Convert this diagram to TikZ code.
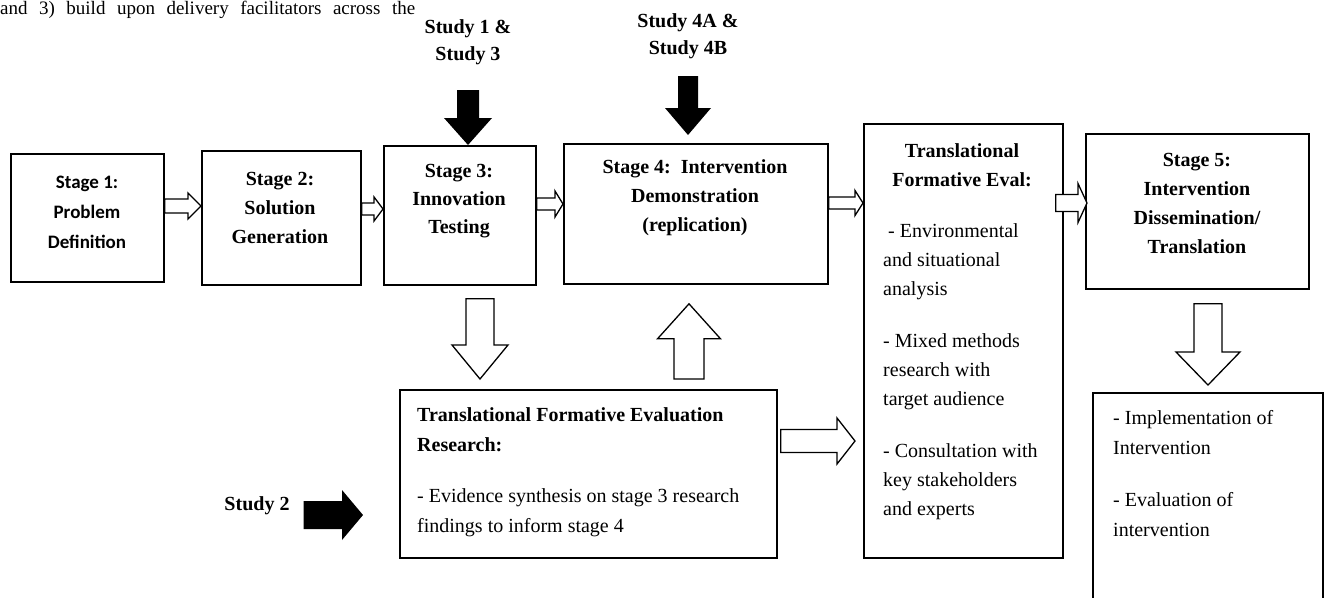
\documentclass[tikz,border=0pt]{standalone}
\usepackage{fontspec}
\setmainfont{Liberation Serif}
\newfontfamily\calib{Carlito}
\usetikzlibrary{calc}
% #1 style, #2 tail, #3 tip, #4 shaft half width, #5 head half width, #6 head length
\newcommand\blockarrow[6]{%
  \coordinate (bac) at ($(#3)!#6!(#2)$);
  \path[#1] ($(#2)!#4!90:(#3)$) -- ($(bac)!#4!-90:(#2)$) -- ($(bac)!#5!-90:(#2)$)
    -- (#3) -- ($(bac)!#5!90:(#2)$) -- ($(bac)!#4!90:(#2)$) -- ($(#2)!#4!-90:(#3)$) -- cycle;}
\begin{document}
\begin{tikzpicture}[x=1pt,y=-1pt,
  box/.style={draw, line width=1.8pt, inner sep=0pt, anchor=north west},
  ttl/.style={font=\fontsize{20}{29}\selectfont\bfseries, align=center, inner sep=0pt},
  body/.style={font=\fontsize{20}{29}\selectfont, align=left, inner sep=0pt, anchor=west},
  hollow/.style={draw, fill=white, line width=1.3pt, line join=miter},
  solidarrow/.style={fill=black}]
\useasboundingbox (0,0) rectangle (1325,597);
\clip (0,0) rectangle (1325,597);

% line of page text above the figure
\node[inner sep=0pt, anchor=base west, font=\fontsize{19}{24}\selectfont] (toptext) at (0,14)
  {\hbox to 415pt{and\hfill 3)\hfill build\hfill upon\hfill delivery\hfill facilitators\hfill across\hfill the}};

% boxes
\node[box, minimum width=153pt, minimum height=128pt] (s1) at (10,153) {};
\node[box, minimum width=159pt, minimum height=134pt] (s2) at (201,150) {};
\node[box, minimum width=152pt, minimum height=139pt] (s3) at (383,145) {};
\node[box, minimum width=264pt, minimum height=140pt] (s4) at (563,143) {};
\node[box, minimum width=199pt, minimum height=434pt] (tfe) at (863,123) {};
\node[box, minimum width=223pt, minimum height=155pt] (s5) at (1085,133) {};
\node[box, minimum width=230pt, minimum height=240pt] (br) at (1092,392) {};
\node[box, minimum width=377pt, minimum height=168pt] (tfer) at (399,389) {};

% texts
\node[ttl, font=\calib\fontsize{19}{30}\selectfont\bfseries] (s1t) at (87,212) {Stage 1:\\Problem\\Definition};
\node[ttl] (s2t) at (280,207.5) {Stage 2:\\Solution\\Generation};
\node[ttl, font=\fontsize{20}{28}\selectfont\bfseries] (s3t) at (459,201) {Stage 3:\\Innovation\\Testing};
\node[ttl] (s4t) at (695,198) {Stage 4:\ \ Intervention\\Demonstration\\(replication)};
\node[ttl] (tfet) at (962,165.5) {Translational\\Formative Eval:};
\node[body] (tfeb) at (883,372) {\hspace{5pt}- Environmental\\and situational\\analysis\\[23pt]- Mixed methods\\research with\\target audience\\[23pt]- Consultation with\\key stakeholders\\and experts};
\node[ttl] (s5t) at (1197,203.5) {Stage 5:\\Intervention\\Dissemination/\\Translation};
\node[body, font=\fontsize{20}{30}\selectfont] (brb) at (1113,473.5) {- Implementation of\\Intervention\\[22pt]- Evaluation of\\intervention};
\node[body, font=\fontsize{20}{30}\selectfont] (tferb) at (417,472) {\textbf{Translational Formative Evaluation}\\\textbf{Research:}\\[21pt]- Evidence synthesis on stage 3 research\\findings to inform stage 4};

\node[ttl, font=\fontsize{20}{27}\selectfont\bfseries] (st1) at (468,42) {Study 1 \&\\Study 3};
\node[ttl, font=\fontsize{20}{27}\selectfont\bfseries] (st4) at (688,36) {Study 4A \&\\Study 4B};
\node[ttl] (st2) at (257,506) {Study 2};

% hollow block arrows
\coordinate (a12s) at (s1.east |- 0,206);  \coordinate (a12e) at (s2.west |- 0,206);
\coordinate (a23s) at (s2.east |- 0,209);  \coordinate (a23e) at (s3.west |- 0,209);
\coordinate (a34s) at (s3.east |- 0,204);  \coordinate (a34e) at (s4.west |- 0,204);
\coordinate (a4Ts) at (s4.east |- 0,203);  \coordinate (a4Te) at (tfe.west |- 0,203);
\coordinate (aT5s) at ($(tfe.east |- 0,203)+(-8,0)$); \coordinate (aT5e) at ($(s5.west |- 0,203)+(2,0)$);
\coordinate (aRTs) at ($(tfer.east |- 0,441)+(3,0)$); \coordinate (aRTe) at ($(tfe.west |- 0,441)+(-8,0)$);
\coordinate (d3s) at ($(s3.south -| 480,0)+(0,13)$); \coordinate (d3e) at ($(tfer.north -| 480,0)+(0,-10)$);
\coordinate (u4s) at ($(tfer.north -| 689,0)+(0,-10)$); \coordinate (u4e) at ($(s4.south -| 689,0)+(0,19)$);
\coordinate (d5s) at ($(s5.south -| 1208,0)+(0,14)$); \coordinate (d5e) at ($(br.north -| 1208,0)+(0,-7)$);

\blockarrow{hollow}{a12s}{a12e}{7pt}{13pt}{13pt}
\blockarrow{hollow}{a23s}{a23e}{6pt}{12pt}{9pt}
\blockarrow{hollow}{a34s}{a34e}{6pt}{13pt}{8pt}
\blockarrow{hollow}{a4Ts}{a4Te}{6pt}{12.5pt}{8pt}
\blockarrow{hollow}{aT5s}{aT5e}{8.5pt}{19.5pt}{9pt}
\blockarrow{hollow}{aRTs}{aRTe}{11.5pt}{23pt}{18pt}
\blockarrow{hollow}{d3s}{d3e}{14pt}{28pt}{34pt}
\blockarrow{hollow}{u4s}{u4e}{15pt}{31.5pt}{35pt}
\blockarrow{hollow}{d5s}{d5e}{14pt}{32pt}{33pt}

% solid block arrows
\coordinate (b1s) at (468,90);  \coordinate (b1e) at (s3.north -| 468,0);
\coordinate (b4s) at (688,76);  \coordinate (b4e) at ($(s4.north -| 688,0)+(0,-8)$);
\coordinate (b2s) at ($(st2.east)+(14,9)$); \coordinate (b2e) at ($(tfer.west |- b2s)+(-36,0)$);
\blockarrow{solidarrow}{b1s}{b1e}{11pt}{24pt}{27pt}
\blockarrow{solidarrow}{b4s}{b4e}{10pt}{23pt}{27pt}
\blockarrow{solidarrow}{b2s}{b2e}{14pt}{25pt}{21pt}
\end{tikzpicture}
\end{document}
